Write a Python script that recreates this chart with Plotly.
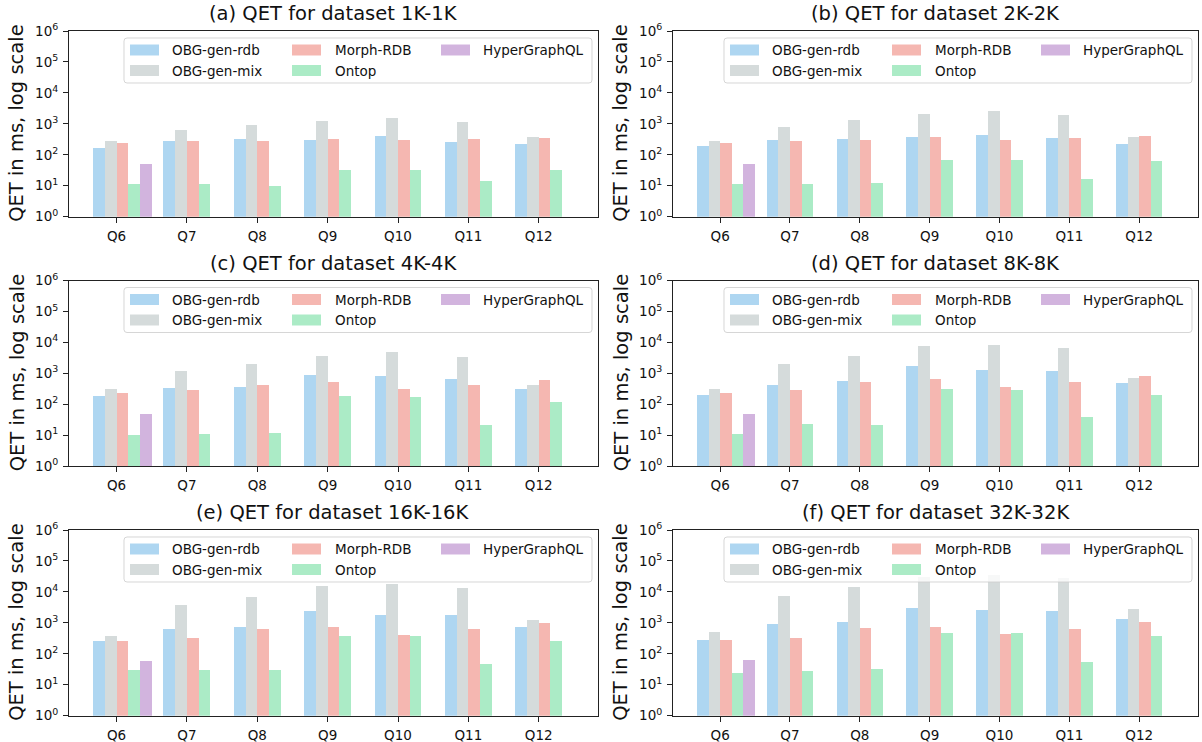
import plotly.graph_objects as go
from plotly.subplots import make_subplots
import numpy as np

# ---------------- data ----------------
queries = ["Q6", "Q7", "Q8", "Q9", "Q10", "Q11", "Q12"]
series_names = ["OBG-gen-rdb", "OBG-gen-mix", "Morph-RDB", "Ontop", "HyperGraphQL"]
series_colors = ["#AED6F1", "#D5DBDB", "#F5B7B1", "#ABEBC6", "#D2B4DE"]
panel_titles = ["(a) QET for dataset 1K-1K", "(b) QET for dataset 2K-2K",
                "(c) QET for dataset 4K-4K", "(d) QET for dataset 8K-8K",
                "(e) QET for dataset 16K-16K", "(f) QET for dataset 32K-32K"]
y_tick_values = [1, 10, 100, 1000, 10000, 100000, 1000000]
y_tick_labels = ["10<sup>0</sup>", "10<sup>1</sup>", "10<sup>2</sup>", "10<sup>3</sup>",
                 "10<sup>4</sup>", "10<sup>5</sup>", "10<sup>6</sup>"]

# 1K-1K
rdb_1k = [170, 285, 330, 305, 415, 265, 228]
mix_1k = [285, 640, 930, 1250, 1560, 1170, 380]
morph_1k = [245, 285, 285, 330, 305, 330, 355]
ontop_1k = [11.8, 11, 10, 33, 33, 14.7, 33]
hyper_1k = [52, None, None, None, None, None, None]
# 2K-2K
rdb_2k = [195, 305, 330, 380, 445, 355, 228]
mix_2k = [285, 800, 1350, 2100, 2650, 1950, 380]
morph_2k = [245, 285, 305, 380, 305, 355, 415]
ontop_2k = [11, 11, 12.7, 70, 70, 17, 65]
hyper_2k = [52, None, None, None, None, None, None]
# 4K-4K
rdb_4k = [187, 340, 390, 890, 825, 660, 315]
mix_4k = [315, 1200, 2150, 3900, 4900, 3600, 425]
morph_4k = [235, 293, 425, 530, 315, 425, 610]
ontop_4k = [10.4, 11.2, 12.1, 187, 174, 22, 120]
hyper_4k = [49, None, None, None, None, None, None]
# 8K-8K
rdb_8k = [200, 425, 570, 1730, 1290, 1200, 490]
mix_8k = [315, 2150, 3900, 8150, 8750, 6950, 710]
morph_8k = [235, 293, 530, 660, 390, 530, 825]
ontop_8k = [11.2, 23.5, 22, 315, 293, 39.5, 200]
hyper_8k = [49, None, None, None, None, None, None]
# 16K-16K
rdb_16k = [251, 610, 710, 2500, 1860, 1730, 760]
mix_16k = [365, 3900, 7050, 15800, 18500, 13700, 1200]
morph_16k = [251, 315, 610, 760, 420, 610, 955]
ontop_16k = [29.4, 29.4, 29.4, 390, 390, 46, 251]
hyper_16k = [57, None, None, None, None, None, None]
# 32K-32K
rdb_32k = [270, 890, 1100, 3100, 2700, 2500, 1290]
mix_32k = [525, 7600, 14700, 31000, 36000, 28700, 2900]
morph_32k = [270, 315, 660, 760, 425, 610, 1100]
ontop_32k = [23.5, 27.3, 31.6, 455, 455, 53, 365]
hyper_32k = [61, None, None, None, None, None, None]

panels = [
    [rdb_1k, mix_1k, morph_1k, ontop_1k, hyper_1k],
    [rdb_2k, mix_2k, morph_2k, ontop_2k, hyper_2k],
    [rdb_4k, mix_4k, morph_4k, ontop_4k, hyper_4k],
    [rdb_8k, mix_8k, morph_8k, ontop_8k, hyper_8k],
    [rdb_16k, mix_16k, morph_16k, ontop_16k, hyper_16k],
    [rdb_32k, mix_32k, morph_32k, ontop_32k, hyper_32k],
]

# ---------------- layout geometry (pixels) ----------------
W, H = 1202, 742
col_px = [(69, 598), (673, 1198)]
row_px = [(31, 216.7), (280.5, 466.2), (530, 715.7)]
bar_w = 1 / 6
FONT = "DejaVu Sans"

def PX(x):
    return x / W

def PY(y):
    return 1 - y / H

fig = make_subplots(rows=3, cols=2)

shapes = []
annotations = []
idx = np.arange(len(queries))

for p, data in enumerate(panels):
    r, c = p // 2, p % 2
    axn = "" if p == 0 else str(p + 1)
    for k, (name, vals) in enumerate(zip(series_names, data)):
        fig.add_trace(go.Bar(
            x=idx + (k - 1.5) * bar_w, y=vals, width=bar_w, name=name,
            marker=dict(color=series_colors[k], line=dict(width=0)),
            showlegend=False, hoverinfo="skip",
        ), row=r + 1, col=c + 1)
    xl, xr = col_px[c]
    yt, yb = row_px[r]
    fig.layout["xaxis" + axn].update(
        domain=[PX(xl), PX(xr)], range=[-0.675, 6.842],
        tickmode="array", tickvals=list(idx), ticktext=queries,
        ticks="outside", ticklen=5, tickwidth=1, tickcolor="#222",
        showline=True, linecolor="#222", linewidth=1, mirror=True,
        showgrid=False, zeroline=False, automargin=False,
        ticklabelstandoff=2,
        tickfont=dict(family=FONT, size=13.5, color="#111"))
    fig.layout["yaxis" + axn].update(
        domain=[PY(yb), PY(yt)], type="log", range=[0, 6],
        tickmode="array", tickvals=y_tick_values, ticktext=y_tick_labels,
        ticks="outside", ticklen=5, tickwidth=1, tickcolor="#222",
        showline=True, linecolor="#222", linewidth=1, mirror=True,
        showgrid=False, zeroline=False, automargin=False,
        ticklabelstandoff=2,
        tickfont=dict(family=FONT, size=13.5, color="#111"))

    # title
    annotations.append(dict(
        text=panel_titles[p], x=PX((xl + xr) / 2), y=PY(yt - 4),
        xref="paper", yref="paper", xanchor="center", yanchor="bottom",
        showarrow=False, font=dict(family=FONT, size=19.5, color="#111")))
    # y-axis label
    annotations.append(dict(
        text="QET in ms, log scale", x=PX(xl - 52), y=PY((yt + yb) / 2),
        xref="paper", yref="paper", xanchor="center", yanchor="middle",
        textangle=-90, showarrow=False,
        font=dict(family=FONT, size=19.5, color="#111")))

    # legend box (matplotlib-style, 3 columns)
    bl, br = xr - 474, xr - 6
    bt, bb = yt + 7, yt + 52
    rr = 3
    path = (f"M {PX(bl + rr)} {PY(bt)} L {PX(br - rr)} {PY(bt)} "
            f"Q {PX(br)} {PY(bt)} {PX(br)} {PY(bt + rr)} "
            f"L {PX(br)} {PY(bb - rr)} Q {PX(br)} {PY(bb)} {PX(br - rr)} {PY(bb)} "
            f"L {PX(bl + rr)} {PY(bb)} Q {PX(bl)} {PY(bb)} {PX(bl)} {PY(bb - rr)} "
            f"L {PX(bl)} {PY(bt + rr)} Q {PX(bl)} {PY(bt)} {PX(bl + rr)} {PY(bt)} Z")
    shapes.append(dict(type="path", path=path, xref="paper", yref="paper",
                       fillcolor="rgba(255,255,255,0.8)",
                       line=dict(color="rgba(204,204,204,0.8)", width=1),
                       layer="above"))
    col_sw = [xr - 468, xr - 306, xr - 157]
    col_tx = [xr - 428, xr - 265, xr - 117]
    row_c = [yt + 19, yt + 39.5]
    grid = [(0, 0), (0, 1), (1, 0), (1, 1), (2, 0)]
    for k, (ci, ri) in enumerate(grid):
        shapes.append(dict(type="rect", xref="paper", yref="paper",
                           x0=PX(col_sw[ci]), x1=PX(col_sw[ci] + 29),
                           y0=PY(row_c[ri] - 5.5), y1=PY(row_c[ri] + 5.5),
                           fillcolor=series_colors[k], line=dict(width=0),
                           layer="above"))
        annotations.append(dict(
            text=series_names[k], x=PX(col_tx[ci]), y=PY(row_c[ri]),
            xref="paper", yref="paper", xanchor="left", yanchor="middle",
            showarrow=False, font=dict(family=FONT, size=13.5, color="#111")))

fig.update_layout(
    width=W, height=H, margin=dict(l=0, r=0, t=0, b=0),
    paper_bgcolor="white", plot_bgcolor="white",
    barmode="overlay", bargap=0, showlegend=False,
    shapes=shapes, annotations=annotations,
    font=dict(family=FONT, color="#111"),
)

fig.write_html("out.html", config={"displayModeBar": False},
               post_script="document.body.style.margin='0';document.body.style.overflow='hidden';")
